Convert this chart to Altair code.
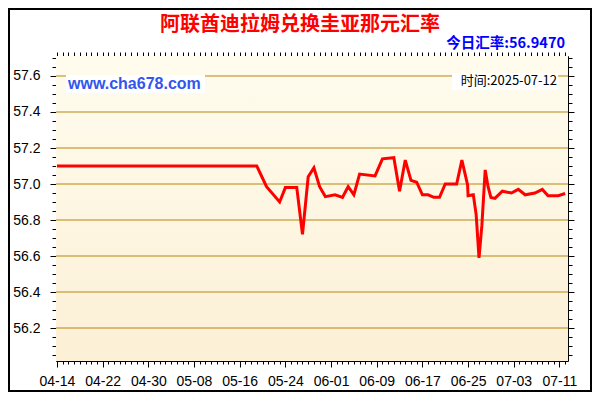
import altair as alt
import pandas as pd

# ---------------- data ----------------
dates = [
    "2025-04-14T00:00:00Z", "2025-05-19T00:00:00Z", "2025-05-20T17:00:00Z", "2025-05-23T00:00:00Z",
    "2025-05-24T00:00:00Z", "2025-05-26T00:00:00Z", "2025-05-27T00:00:00Z", "2025-05-28T00:00:00Z",
    "2025-05-29T00:00:00Z", "2025-05-30T00:00:00Z", "2025-05-31T00:00:00Z", "2025-06-01T17:00:00Z",
    "2025-06-03T00:00:00Z", "2025-06-04T00:00:00Z", "2025-06-05T00:00:00Z", "2025-06-06T00:00:00Z",
    "2025-06-08T17:00:00Z", "2025-06-10T00:00:00Z", "2025-06-12T00:00:00Z", "2025-06-13T00:00:00Z",
    "2025-06-14T00:00:00Z", "2025-06-15T00:00:00Z", "2025-06-16T00:00:00Z", "2025-06-17T00:00:00Z",
    "2025-06-18T00:00:00Z", "2025-06-19T00:00:00Z", "2025-06-20T00:00:00Z", "2025-06-21T00:00:00Z",
    "2025-06-23T00:00:00Z", "2025-06-23T22:00:00Z", "2025-06-24T22:00:00Z", "2025-06-25T00:00:00Z",
    "2025-06-25T22:00:00Z", "2025-06-26T10:00:00Z", "2025-06-26T22:00:00Z", "2025-06-27T10:00:00Z",
    "2025-06-28T00:00:00Z", "2025-06-28T12:00:00Z", "2025-06-29T00:00:00Z", "2025-06-29T17:00:00Z",
    "2025-07-01T00:00:00Z", "2025-07-02T14:00:00Z", "2025-07-03T19:00:00Z", "2025-07-05T00:00:00Z",
    "2025-07-06T17:00:00Z", "2025-07-08T00:00:00Z", "2025-07-09T00:00:00Z", "2025-07-10T19:00:00Z",
    "2025-07-12T00:00:00Z",
]
rates = [
    57.10, 57.10, 56.985, 56.90,
    56.98, 56.98, 56.72, 57.04,
    57.09, 56.985, 56.93, 56.94,
    56.925, 56.985, 56.94, 57.055,
    57.045, 57.14, 57.146, 56.96,
    57.133, 57.02, 57.01, 56.94,
    56.94, 56.926, 56.926, 57.00,
    57.00, 57.133, 56.995, 56.935,
    56.94, 56.83, 56.59, 56.77,
    57.078, 56.985, 56.925, 56.92,
    56.96, 56.95, 56.97, 56.94,
    56.95, 56.97, 56.935, 56.935,
    56.947,
]
y_major = [56.2, 56.4, 56.6, 56.8, 57.0, 57.2, 57.4, 57.6]
title_text = "阿联酋迪拉姆兑换圭亚那元汇率"
rate_text = "今日汇率:56.9470"
site_text = "www.cha678.com"
time_text = "时间:2025-07-12"

# ---------------- layout ----------------
W, H = 512, 305
PAD = {"left": 48, "top": 48, "right": 24, "bottom": 31}
DAY = 86400000
T0 = int(pd.Timestamp("2025-04-14", tz="UTC").timestamp() * 1000)
x_domain = [T0 - 4 * 3600000, T0 + int(89.5 * DAY)]
y_domain = [56.0167, 57.7111]
x_ticks = [T0 + i * DAY for i in range(0, 90)]
y_ticks = [round(56.05 + 0.05 * i, 2) for i in range(34)]

x_major = f"(round((datum.value - {T0}) / {DAY}) % 8) == 0"
y_major_t = "abs(datum.value * 5 - round(datum.value * 5)) < 0.01"

df = pd.DataFrame({"date": dates, "rate": rates})
xs = alt.Scale(type="utc", domain=x_domain, nice=False)
ys = alt.Scale(domain=y_domain, nice=False, zero=False)

one = pd.DataFrame({"a": [0]})

bg = alt.Chart(one).mark_rect(
    color=alt.Gradient(
        gradient="linear",
        stops=[alt.GradientStop(color="#FFFCEE", offset=0),
               alt.GradientStop(color="#FCF0D6", offset=1)],
        x1=0, x2=0, y1=0, y2=1,
    )
).encode(x=alt.value(0), x2=alt.value(W), y=alt.value(0), y2=alt.value(H))

grid = alt.Chart(pd.DataFrame({"v": y_major})).mark_rule(
    color="#B8860B", strokeWidth=1
).encode(y=alt.Y("v:Q", scale=ys, axis=None))

box1 = alt.Chart(one).mark_rect(color="white").encode(
    x=alt.value(10), x2=alt.value(149), y=alt.value(19), y2=alt.value(37))
box2 = alt.Chart(one).mark_rect(color="white").encode(
    x=alt.value(396), x2=alt.value(502), y=alt.value(17), y2=alt.value(34))

line = alt.Chart(df).mark_line(color="#FF0000", strokeWidth=3).encode(
    x=alt.X("date:T", scale=xs, title=None,
            axis=alt.Axis(orient="bottom", values=x_ticks, grid=False,
                          labelExpr=f"{x_major} ? utcFormat(datum.value, '%m-%d') : ''",
                          tickSize={"condition": {"test": x_major, "value": 6}, "value": 3},
                          labelFont="Liberation Sans", labelFontSize=14, labelColor="black",
                          labelPadding=7, labelOverlap=False, labelFlush=False,
                          domainColor="black", tickColor="black", labelAngle=0)),
    y=alt.Y("rate:Q", scale=ys, title=None,
            axis=alt.Axis(orient="left", values=y_ticks, grid=False,
                          labelExpr=f"{y_major_t} ? format(datum.value, '.1f') : ''",
                          tickSize={"condition": {"test": y_major_t, "value": 6}, "value": 4},
                          labelFont="Liberation Sans", labelFontSize=14, labelColor="black",
                          labelPadding=10, labelOverlap=False, labelFlush=False,
                          domainColor="black", tickColor="black")),
)

ghost = alt.Chart(df).mark_line(strokeOpacity=0).encode(
    x=alt.X("date:T", scale=xs, title=None,
            axis=alt.Axis(orient="top", values=x_ticks, labels=False, grid=False,
                          tickSize=4, domainColor="black", tickColor="black")),
    y=alt.Y("rate:Q", scale=ys, title=None,
            axis=alt.Axis(orient="right", values=y_ticks, labels=False, grid=False,
                          tickSize={"condition": {"test": y_major_t, "value": 6}, "value": 4},
                          domainColor="black", tickColor="black")),
)

def label(text, x, y, size, color, weight="normal", align="center",
          font="Noto Sans CJK SC", baseline="middle"):
    return alt.Chart(pd.DataFrame({"t": [text]})).mark_text(
        align=align, baseline=baseline, fontSize=size, fontWeight=weight,
        color=color, font=font,
    ).encode(text="t:N", x=alt.value(x), y=alt.value(y))

title_m = label(title_text, 244, -25, 20, "#FF0000", "bold", baseline="alphabetic")
rate_m = label(rate_text, 509, -8, 14.5, "#0000FF", "bold", "right", baseline="alphabetic")
site_m = label(site_text, 12, 28, 16, "#3355EE", "bold", "left", "Liberation Sans")
time_m = label(time_text, 501, 25, 13, "black", "normal", "right")

border = alt.Chart(one).mark_rect(fill=None, stroke="black", strokeWidth=2).encode(
    x=alt.value(-PAD["left"] + 1), x2=alt.value(W + PAD["right"] - 1),
    y=alt.value(-PAD["top"] + 1), y2=alt.value(H + PAD["bottom"] - 1))

chart = alt.layer(
    bg, grid, box1, box2, line, ghost, title_m, rate_m, site_m, time_m, border
).resolve_axis(x="independent", y="independent").properties(
    width=W, height=H,
    autosize=alt.AutoSizeParams(type="none"),
    padding=PAD,
    background="white",
).configure_view(stroke=None)

chart.save("out.html", embed_options={"renderer": "svg", "actions": False})
